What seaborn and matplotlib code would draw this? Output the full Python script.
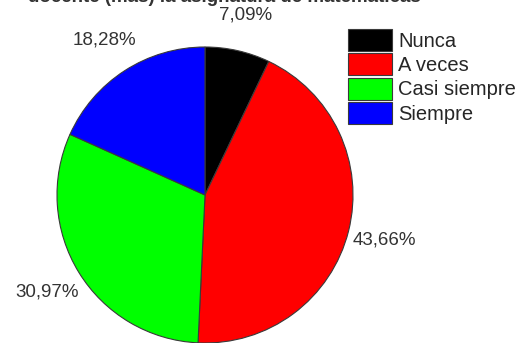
import matplotlib
matplotlib.use("Agg")
import matplotlib.pyplot as plt
import seaborn as sns

categorias = ["Nunca", "A veces", "Casi siempre", "Siempre"]
porcentajes = [7.09, 43.66, 30.97, 18.28]
colores = ["#000000", "#ff0000", "#00ff00", "#0000ff"]
titulo = "docente (más) la asignatura de matemáticas"

sns.set_theme(style="white")
plt.rcParams['font.family'] = ['Liberation Sans', 'DejaVu Sans']

fig = plt.figure(figsize=(5.29, 3.43), dpi=100)
ax = fig.add_axes([57 / 529, 0, 296 / 529, 296 / 343])

wedges, textos, autotextos = ax.pie(
    porcentajes,
    colors=colores,
    startangle=90,
    counterclock=False,
    autopct=lambda p: f"{p:.2f}%".replace(".", ","),
    pctdistance=1.25,
    wedgeprops=dict(edgecolor="#3a3a3a", linewidth=0.8),
    textprops=dict(fontsize=13.5, color="#333333"),
)
ax.set_xlim(-1, 1)
ax.set_ylim(-1, 1)
ax.set_aspect("equal")

ax.legend(
    wedges, categorias,
    loc="upper left",
    bbox_to_anchor=(348 / 529, 1 - 29 / 343),
    bbox_transform=fig.transFigure,
    frameon=False,
    fontsize=14.5,
    handlelength=2.2,
    handleheight=1.3,
    handletextpad=0.3,
    labelspacing=0.12,
    borderpad=0,
    borderaxespad=0,
)

fig.text(28 / 529, 1 - 2 / 343, titulo, fontsize=13.5, fontweight="bold",
         ha="left", va="baseline", color="#333333")

fig.savefig("out.png", dpi=100)
